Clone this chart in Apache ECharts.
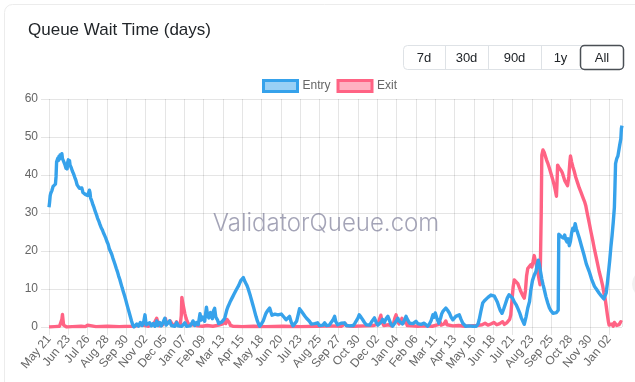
<!DOCTYPE html>
<html><head><meta charset="utf-8">
<script src="https://cdn.jsdelivr.net/npm/echarts@6/dist/echarts.min.js"></script>
<style>html,body{margin:0;padding:0;background:#fff;}#c{width:635px;height:382px;}</style>
</head><body><div id="c"></div>
<script>
// x positions are day offsets from May 21 (first tick); one tick every 33 days
const tickLabels = ["May 21","Jun 23","Jul 26","Aug 28","Sep 30","Nov 02","Dec 05","Jan 07","Feb 09","Mar 13","Apr 15","May 18","Jun 20","Jul 23","Aug 25","Sep 27","Oct 30","Dec 02","Jan 04","Feb 06","Mar 11","Apr 13","May 16","Jun 18","Jul 21","Aug 23","Sep 25","Oct 28","Nov 30","Jan 02"];
const seriesNames = ["Entry","Exit"];
const rangeButtons = ["7d","30d","90d","1y","All"];

// Entry queue wait (days): [dayIndex, value]
const entry = [[0,31.5],[1,32.8],[2,34.5],[3,35.2],[4,34.9],[5,35.9],[6,36.2],[7,37],[8,36.6],[9,37.3],[10,37],[11,37.6],[12,39.5],[13,43.5],[14,43],[15,44.4],[16,43.8],[17,44.9],[18,44.2],[19,45.3],[20,44.5],[21,45],[22,45.6],[23,44.3],[24,44.8],[25,43.6],[26,43.9],[27,42.8],[28,42.3],[29,41.8],[30,42.5],[31,41.6],[32,43.4],[33,44],[34,43.2],[35,43.8],[36,42.6],[38,41.9],[40,41],[42,40.3],[44,39.4],[46,38.6],[48,37.4],[50,37.8],[52,36.5],[54,36],[56,36.6],[58,35.4],[60,35.7],[62,34.9],[64,35.3],[66,34.6],[68,34.3],[69,36],[70,35.4],[71,34],[73,33.2],[75,32.2],[77,31.4],[79,30.4],[81,29.6],[83,28.6],[85,27.9],[87,27],[89,26.2],[91,25.6],[93,24.8],[95,24.1],[97,23.4],[99,22.5],[101,21.8],[103,20.6],[105,20.3],[107,19.2],[109,18.2],[111,17.3],[113,16.4],[115,15.4],[117,14.5],[119,13.4],[121,12.5],[123,11.4],[125,10.3],[127,9.3],[129,8.3],[131,7.2],[133,6],[135,4.9],[137,3.8],[139,2.7],[141,1.6],[143,0.6],[145,0],
[147,0.3],[150,0.8],[153,0.2],[156,1.2],[159,0.4],[162,1.5],[164,3.2],[166,0.6],[169,0.2],[172,1.1],[175,0.3],[178,0.9],[181,0.2],[184,1.6],[186,0.4],[189,1.2],[192,0.3],[195,0.8],[198,2.3],[200,0.5],[203,0.2],[206,1.6],[209,0.4],[212,0.9],[215,0.2],[218,1.2],[221,0.3],[224,0.8],[227,0.2],[230,0.6],[232,1.1],[235,0.2],[238,0.7],[241,0.3],[244,0.9],[246,1.6],[249,0.4],[252,1.2],[255,0.6],[258,3.5],[260,1.8],[263,2.6],[266,1.5],[269,5.2],[271,3.1],[273,2.4],[276,3.8],[279,2.2],[281,4.2],[283,4.9],[285,2.6],[288,1.8],[290,0.9],[292,0.4],[295,1.3],[298,0.9],[300,2.2],
[302,3.4],[304,4.6],[306,5.4],[308,6.1],[310,6.8],[312,7.4],[314,8],[316,8.6],[318,9.2],[320,9.8],[322,10.3],[324,10.9],[326,11.6],[328,12.3],[330,12.7],[332,13],[334,12.2],[336,11.6],[338,11],[340,10.2],[342,9.2],[344,8.2],[346,7.1],[348,6],[350,4.9],[352,3.7],[354,2.6],[356,1.6],[358,0.8],[360,0.2],
[363,0.8],[366,1.6],[369,2.9],[371,3.7],[374,4.4],[377,5],[379,4],[381,3.1],[383,2.7],[386,3.4],[388,3.8],[391,3.2],[394,2.7],[397,3.4],[400,3.2],[402,2.5],[405,1.9],[408,2.4],[411,2.8],[414,1.2],[417,0.3],[420,0.8],[423,1.5],[426,3.4],[428,4.8],[431,4.2],[434,3.7],[437,2.9],[440,2.3],[443,2],[445,1.5],[448,0.8],[451,0.3],[454,0.9],[457,0.5],[459,1.1],[462,0.4],[465,0.9],[468,0.5],[471,1.1],[474,0.4],[477,0.8],[479,0.5],[482,1.2],[485,1.8],[488,2.8],[490,1.4],[493,0.6],[496,0.4],[499,1],[502,0.5],[505,1.1],[508,0.4],[511,0.9],[514,0.3],[517,0.7],[520,0.4],[523,1.1],[525,1.6],[528,2.4],[530,3.2],[533,2.6],[536,1.9],[539,1.2],[542,0.6],[545,1.1],[548,0.5],[551,1.3],[553,1.8],[556,2.4],[559,1.2],[562,0.5],[565,0.9],[568,1.4],[570,2],[573,1.2],[576,2.2],[579,2.8],[582,1.6],[584,0.8],[587,0.2],[590,0.7],[593,1.5],[596,2.3],[598,1.6],[601,1.5],[604,0.8],[607,1.7],[610,2.8],[613,1.8],[616,1],[619,0.5],[622,0.9],[625,1.2],[627,1.5],[630,0.9],[633,0.5],[636,0.7],[639,0.4],
[641,1],[644,0.5],[647,0.2],[650,0.8],[653,1.7],[656,3.2],[658,2.6],[660,3.7],[663,2.2],[666,1],[669,2.3],[671,3.5],[673,4.1],[676,4.6],[678,5],[681,4.4],[684,3.7],[687,2.6],[690,1.9],[693,2.2],[695,2.8],[698,2.4],[701,3.2],[704,2],[707,1],[710,0.5],[712,0.2],[715,0.5],[718,0.3],[721,0.6],[724,0.2],[727,0.4],[730,0.2],[733,0.8],[735,1.9],[738,4.2],[741,6.3],[744,6.9],[747,7.2],[750,7.8],[752,8.1],[755,8.4],[758,8.5],[761,8.1],[764,7.6],[766,6.6],[769,5.2],[771,4.4],[774,3.6],[777,4.8],[780,6.2],[783,7.6],[786,8.5],[789,8.3],[792,7.6],[795,6.6],[798,5.9],[801,4.9],[804,3.8],[807,2.4],[810,1.4],[812,0.7],
[815,2.6],[818,5],[821,6.7],[823,9.5],[826,12.2],[829,13.6],[832,14.6],[834,16.4],[836,17.6],[838,16.2],[840,14.4],[842,12.6],[844,11.2],[846,10],[849,8],[852,6.4],[855,5],[858,4.2],[861,3.6],[864,3.4],[867,3.8],[869,4],[870,4.4],[871,24.4],[873,24.8],[875,23.8],[877,24],[879,23.4],[881,24.2],[883,23],[885,22.4],[887,23.2],[889,21.4],[891,22.6],[893,24.8],[895,26],[897,25.4],[899,27.2],[901,25.8],[903,24.9],[906,23.4],[910,21.2],[914,19],[918,16.6],[923,14.6],[927,12.6],[932,10.7],[936,9.8],[940,8.9],[944,8.1],[948,7.4],[950,7.2],[952,9],[954,11.5],[956,14.5],[958,17.5],[960,21],[962,24],[964,27.5],[966,31.5],[967,37],[968,43],[970,44.3],[972,45],[974,45.4],[975,47.8],[977,49.5],[978,52.3],[979,53]];

// Exit queue wait (days): [dayIndex, value]
const exit = [[0,0],[10,0.1],[18,0.2],[20,0.6],[22,2],[23,3.3],[24,1.8],[25,0.5],[27,0.2],[30,0],[40,0.1],[55,0.2],[62,0.1],[66,0.5],[68,0.2],[80,0.1],[100,0.2],[120,0.1],[140,0.2],[150,0.3],[155,0.6],[158,0.2],[165,0.4],[170,0.2],[178,0.8],[181,1.4],[184,2.3],[186,1.2],[189,0.3],[194,0.5],[197,1.5],[199,2.2],[201,0.8],[204,0.3],[207,1.6],[209,2],[211,0.6],[215,0.4],[218,1.4],[220,0.5],[224,0.3],[226,3],[227,7.8],[228,6.8],[230,5.2],[232,3.6],[234,2.4],[236,1.5],[238,0.8],[241,0.3],[245,0.6],[248,0.2],[255,0.3],[262,0.2],[270,0.4],[280,0.2],[290,0.5],[297,0.8],[300,1.6],[302,0.9],[304,2],[306,2.4],[308,1.2],[310,0.4],[314,0.2],[330,0.1],[350,0.2],[370,0.1],[400,0.2],[430,0.1],[460,0.2],[480,0.3],[500,0.2],[506,0.9],[509,0.3],[520,0.2],[540,0.3],[555,0.4],[562,0.8],[565,2.2],[567,3.1],[569,1.4],[572,0.4],[580,0.6],[585,0.3],[589,1.2],[591,2.4],[593,3.2],[595,1.6],[598,0.8],[601,1.5],[603,2.3],[605,1],[608,0.8],[610,1.5],[612,0.4],[620,0.3],[630,0.2],[640,0.3],[655,0.2],[665,0.6],[668,1.4],[670,0.5],[675,0.8],[678,1.6],[680,0.6],[690,0.3],[700,0.4],[710,0.2],[720,0.3],[730,0.4],[740,0.6],[745,1],[750,0.5],[755,0.8],[760,1.2],[765,0.6],[770,0.9],[775,1.4],[778,0.7],[782,1.1],[785,1.4],
[787,2],[789,3.2],[791,7],[793,10.5],[795,12.4],[798,12],[801,11.4],[804,10.2],[806,9.4],[809,8.4],[812,7.6],[814,9.5],[816,13.5],[818,15.4],[820,15],[823,16.4],[825,15.8],[827,17.2],[829,18.8],[831,17.4],[833,16],[835,14.6],[837,12.8],[839,11.1],[840,10.8],[841,30],[842,45.2],[844,46.6],[846,46],[848,45],[850,44],[852,43.2],[855,41.8],[858,40.2],[861,38.6],[863,37.4],[865,36],[867,34.4],[868,38],[869,42.6],[871,42],[873,41.5],[875,41.2],[877,40.6],[879,40.2],[881,38.6],[883,38.4],[886,37.2],[888,39.5],[890,43.5],[891,45],[893,43.4],[895,42.2],[897,41.2],[900,39.4],[903,38],[906,36.6],[909,35.4],[912,34.2],[915,33],[917,32],[920,29.6],[923,27.4],[926,25],[929,22.8],[932,20.4],[934,19],[937,16.8],[940,14.6],[943,12.8],[946,10.8],[948,9],[950,7.6],[952,5.5],[954,3.2],[956,1.2],[957,0.5],[960,0.3],[962,0.8],[964,0.2],[966,1.2],[968,1.5],[970,0.4],[972,0.2],[974,0.6],[976,0.3],[977,1.4],[979,1.2]];

const TICK_STEP = 33;
const LAST_DAY = 979;
const BLUE = '#36a2eb', PINK = '#ff6384';
const FONT = '"Liberation Sans", Arial, Helvetica, sans-serif';

const chart = echarts.init(document.getElementById('c'), null, {renderer: 'canvas'});

// range buttons
const btnW = [42, 43, 53, 39, 44];
const btnX0 = 403, btnY = 45, btnH = 24;
const btnEls = [];
let bx = btnX0;
btnEls.push({type:'rect', shape:{x:btnX0+0.5, y:btnY+0.5, width:btnW.reduce((a,b)=>a+b,0)-1, height:btnH, r:4}, style:{fill:'#fff', stroke:'#dee2e6', lineWidth:1}, silent:true});
rangeButtons.forEach((t,i)=>{
  if (i>0 && i<rangeButtons.length-1) btnEls.push({type:'line', shape:{x1:bx+0.5,y1:btnY+0.5,x2:bx+0.5,y2:btnY+btnH+0.5}, style:{stroke:'#dee2e6', lineWidth:1}, silent:true});
  if (i === rangeButtons.length-1) {
    btnEls.push({type:'rect', shape:{x:bx+0.5, y:btnY+0.5, width:btnW[i]-1, height:btnH, r:4}, style:{fill:'#fff', stroke:'#4a4f55', lineWidth:1.5}, silent:true});
  }
  btnEls.push({type:'text', x: bx + btnW[i]/2, y: btnY + btnH/2 + 1, style:{text:t, fill:'#212529', font:'13px '+FONT, align:'center', verticalAlign:'middle'}, silent:true});
  bx += btnW[i];
});

chart.setOption({
  animation: false,
  backgroundColor: '#fff',
  title: {
    text: 'Queue Wait Time (days)', left: 23, top: 17,
    textStyle: {fontFamily: FONT, fontSize: 17, fontWeight: 'normal', color: '#212529'}
  },
  legend: {
    left: 257, top: 74, itemWidth: 34, itemHeight: 11, itemGap: 6,
    textStyle: {fontFamily: FONT, fontSize: 12, color: '#666'},
    data: [
      {name: seriesNames[0], icon: 'rect', itemStyle: {color: 'rgba(54,162,235,0.5)', borderColor: BLUE, borderWidth: 3}},
      {name: seriesNames[1], icon: 'rect', itemStyle: {color: 'rgba(255,99,132,0.5)', borderColor: PINK, borderWidth: 3}}
    ]
  },
  grid: {left: 49, right: 13, top: 99, bottom: 55, containLabel: false},
  xAxis: {
    type: 'value', min: 0, max: LAST_DAY, interval: TICK_STEP,
    axisLine: {show: false},
    axisTick: {show: true, length: 8, lineStyle: {color: 'rgba(0,0,0,0.1)'}},
    splitLine: {show: true, lineStyle: {color: 'rgba(0,0,0,0.1)'}},
    axisLabel: {
      rotate: 50, margin: 10, fontFamily: FONT, fontSize: 12, color: '#666',
      showMaxLabel: false,
      formatter: v => { const i = v / TICK_STEP; return Number.isInteger(i) && tickLabels[i] ? tickLabels[i] : ''; }
    }
  },
  yAxis: {
    type: 'value', min: 0, max: 60, interval: 10,
    axisLine: {show: false},
    axisTick: {show: true, length: 8, lineStyle: {color: 'rgba(0,0,0,0.1)'}},
    splitLine: {show: true, lineStyle: {color: 'rgba(0,0,0,0.1)'}},
    axisLabel: {margin: 11, fontFamily: FONT, fontSize: 12, color: '#666'}
  },
  series: [
    {name: seriesNames[0], type: 'line', data: entry, showSymbol: false, symbol: 'none',
     lineStyle: {color: BLUE, width: 3.4, join: 'round'}, itemStyle: {color: BLUE}, z: 3},
    {name: seriesNames[1], type: 'line', data: exit, showSymbol: false, symbol: 'none',
     lineStyle: {color: PINK, width: 3.4, join: 'round'}, itemStyle: {color: PINK}, z: 2}
  ],
  graphic: [
    {type: 'rect', shape: {x: 4.5, y: 4.5, width: 640, height: 400, r: 8}, style: {fill: 'none', stroke: '#ececec', lineWidth: 1}, silent: true, z: -10},
    {type: 'circle', shape: {cx: 646, cy: 284, r: 14}, style: {fill: '#f1f1f1'}, silent: true},
    {type: 'text', x: 326, y: 224, z: 100, style: {text: 'ValidatorQueue.com', fill: 'rgba(115,115,145,0.65)', font: '300 24px Inter, "Open Sans", sans-serif', align: 'center', verticalAlign: 'middle'}, silent: true},
    ...btnEls
  ]
});
</script>
</body></html>
